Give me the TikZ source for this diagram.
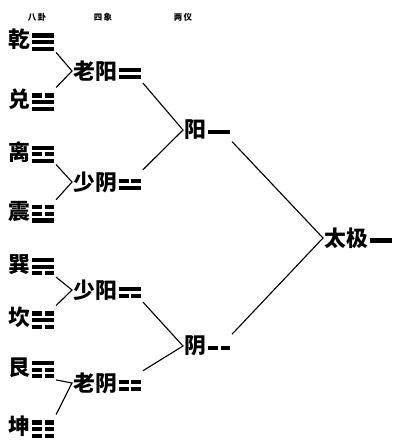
\documentclass[tikz,border=0pt]{standalone}
\usepackage{fontspec}
\newfontfamily\cjk{Noto Sans CJK SC}
\usetikzlibrary{positioning}

% one line of a figure: solid (yang) or broken (yin)
\newcommand\yao[1]{\hbox{\ifnum#1=1 \rule{16pt}{2.9pt}\else\rule{7pt}{2.9pt}\hspace{2pt}\rule{7pt}{2.9pt}\fi}}
\newcommand\trig[3]{\kern1pt\raisebox{0.5pt}{$\vcenter{\offinterlineskip\yao{#1}\kern1.8pt\yao{#2}\kern1.8pt\yao{#3}}$}}
\newcommand\digram[2]{\kern1pt\raisebox{0.5pt}{$\vcenter{\offinterlineskip\yao{#1}\kern2pt\yao{#2}}$}}
\newcommand\mono[1]{\kern1pt\raisebox{0.5pt}{$\vcenter{\offinterlineskip\yao{#1}}$}}

\tikzset{
  gua/.style={anchor=west, inner sep=1pt, font=\cjk\bfseries\fontsize{15.5}{15.5}\selectfont},
  head/.style={inner sep=0pt, font=\cjk\bfseries\fontsize{6}{6}\selectfont},
  branch/.style={line width=0.8pt}
}

\begin{document}
\begin{tikzpicture}[x=0.025cm, y=-0.025cm]
        \useasboundingbox (0,0) rectangle (393,441);

        % column heads
        \node[head] (h8) at (37,17) {八\,卦};
        \node[head] (h4) at (103,17) {四\,象};
        \node[head] (h2) at (183,17) {两\,仪};

        % eight trigrams (lines listed top to bottom)
        \node[gua] (qian) at (7,40) {乾\trig111};
        \node[gua] (dui) at (7,100) {兑\trig011};
        \node[gua] (li) at (7,152) {离\trig101};
        \node[gua] (zhen) at (7,212) {震\trig001};
        \node[gua] (xun) at (7,265) {巽\trig110};
        \node[gua] (kan) at (7,318) {坎\trig010};
        \node[gua] (gen) at (7,368) {艮\trig100};
        \node[gua] (kun) at (7,427) {坤\trig000};

        % four images
        \node[gua] (laoyang) at (72,71) {老阳\digram11};
        \node[gua] (shaoyin) at (72,182) {少阴\digram01};
        \node[gua] (shaoyang) at (72,290) {少阳\digram10};
        \node[gua] (laoyin) at (72,383) {老阴\digram00};

        % two modes and the supreme
        \node[gua] (yang) at (183,130) {阳\mono1};
        \node[gua] (yin) at (183,346) {阴\mono0};
        \node[gua] (taiji) at (323,238) {太极\mono1};

        \draw[branch] (qian.south east) -- (laoyang.west) -- (dui.north east);
        \draw[branch] (li.south east) -- (shaoyin.west) -- (zhen.north east);
        \draw[branch] (xun.south east) -- (shaoyang.west) -- (kan.north east);
        \draw[branch] (gen.south east) -- (laoyin.west) -- (kun.north east);

        \draw[branch] (laoyang.south east) -- (yang.west) -- (shaoyin.north east);
        \draw[branch] (shaoyang.south east) -- (yin.west) -- (laoyin.north east);

        \draw[branch] (yang.south east) -- (taiji.west) -- (yin.north east);
    \end{tikzpicture}
\end{document}
